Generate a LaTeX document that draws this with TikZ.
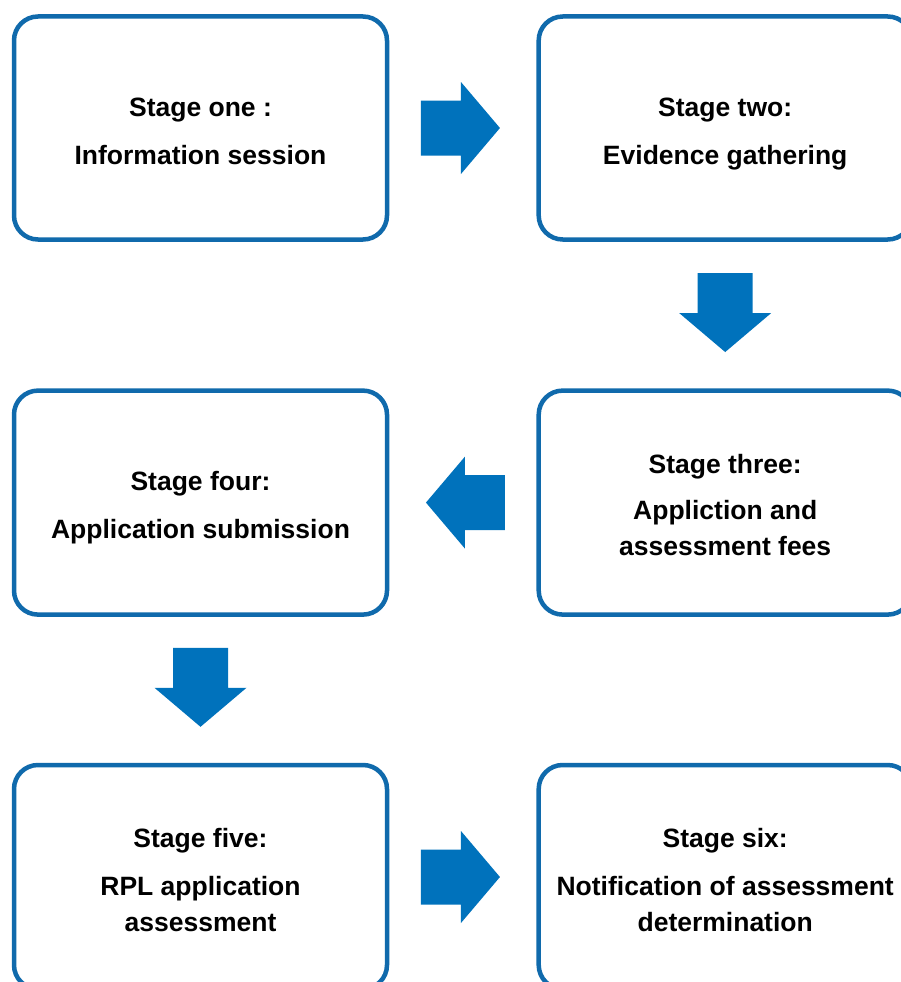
\documentclass[tikz,border=0pt]{standalone}
\usepackage{fontspec}
\setmainfont{Liberation Sans}
\usetikzlibrary{calc}
\definecolor{boxblue}{RGB}{16,106,172}
\definecolor{arrowblue}{RGB}{0,114,188}
\newcommand\stagetop{\rule{0pt}{30pt}}
\newcommand\stagebot{\vphantom{g}}
\tikzset{
  blockarr/.pic={\fill[arrowblue] (-39.5,-27.5) -- (0.5,-27.5) -- (0.5,-46) -- (39.5,0) -- (0.5,46) -- (0.5,27.5) -- (-39.5,27.5) -- cycle;}
}
\begin{document}
\begin{tikzpicture}[x=1pt,y=-1pt,
  stagebox/.style={draw=boxblue,line width=4.5pt,rounded corners=24pt,
    minimum width=373pt,minimum height=223pt,align=center,inner sep=0pt,
    font=\bfseries\fontsize{26.5}{36}\selectfont}]
\useasboundingbox (0,0) rectangle (901,982);
\clip (0,0) rectangle (901,982);
\fill[white] (0,0) rectangle (901,982);
\node[stagebox] (s1) at (200.5,128) {\stagetop Stage one :\\[12pt]Information session\stagebot};
\node[stagebox] (s2) at (725.2,128) {\stagetop Stage two:\\[12pt]Evidence gathering\stagebot};
\node[stagebox,minimum height=224pt] (s3) at (725.2,502.6) {\stagetop Stage three:\\[10pt]Appliction and\\assessment fees\stagebot};
\node[stagebox,minimum height=224pt] (s4) at (200.5,502.6) {\stagetop Stage four:\\[12pt]Application submission\stagebot};
\node[stagebox,minimum height=224pt] (s5) at (200.5,877) {\stagetop Stage five:\\[12pt]RPL application\\assessment\stagebot};
\node[stagebox,minimum height=224pt] (s6) at (725.2,877) {\stagetop Stage six:\\[12pt]Notification of assessment\\determination\stagebot};
\pic[xshift=-2.4pt] at ($(s1.east)!0.5!(s2.west)$) {blockarr};
\pic[yshift=2.5pt,rotate=-90] at ($(s2.south)!0.5!(s3.north)$) {blockarr};
\pic[rotate=180,xshift=-2.6pt] at ($(s3.west)!0.5!(s4.east)$) {blockarr};
\pic[yshift=2.5pt,rotate=-90] at ($(s4.south)!0.5!(s5.north)$) {blockarr};
\pic[xshift=-2.4pt] at ($(s5.east)!0.5!(s6.west)$) {blockarr};
\end{tikzpicture}
\end{document}
